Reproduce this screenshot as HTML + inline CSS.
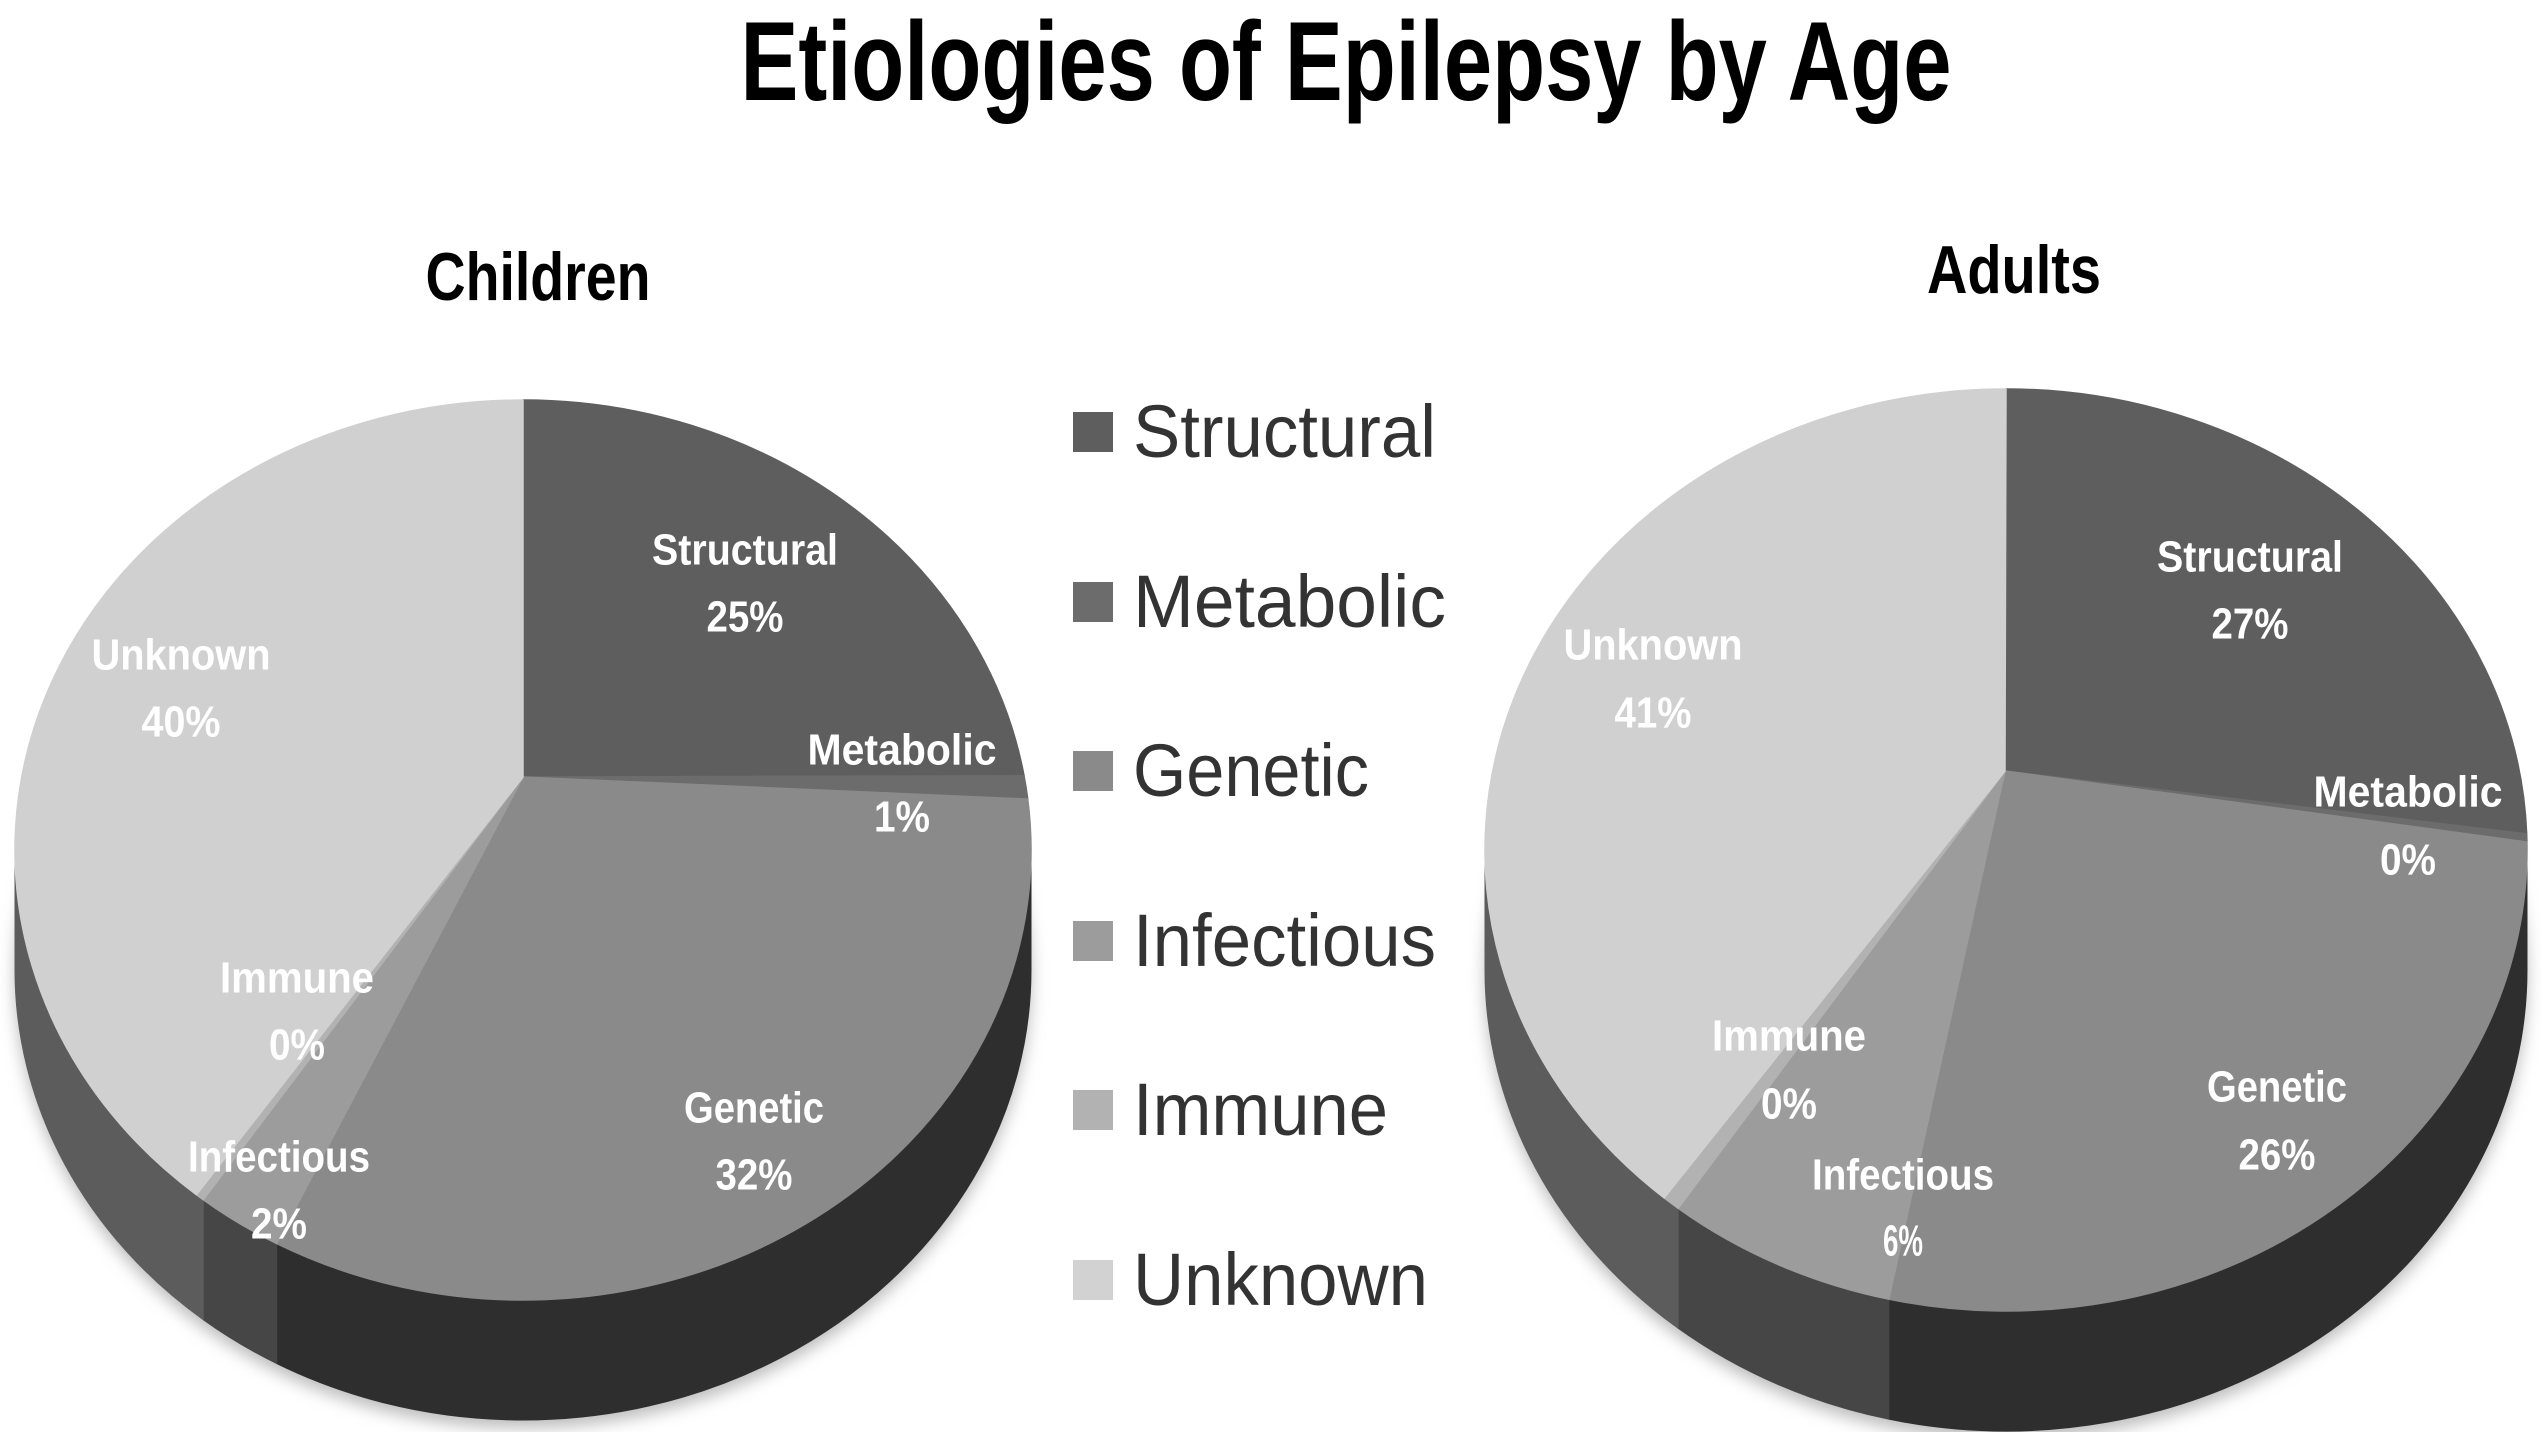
<!DOCTYPE html>
<html><head><meta charset="utf-8"><style>
html,body{margin:0;padding:0;background:#fff;}
svg{display:block;}
text{font-family:"Liberation Sans",sans-serif;}
.lb{fill:#fff;font-weight:bold;font-size:44px;text-anchor:middle;dominant-baseline:central;}
.lg{fill:#333;font-size:74px;}
</style></head><body>
<svg id="s" width="2542" height="1432" viewBox="0 0 2542 1432" xmlns="http://www.w3.org/2000/svg">
<defs><filter id="sh" x="-10%" y="-10%" width="120%" height="130%"><feGaussianBlur stdDeviation="8"/></filter></defs>
<g id="pies"></g>
<text x="1346" y="100" font-size="112" font-weight="bold" fill="#000" text-anchor="middle" textLength="1211" lengthAdjust="spacingAndGlyphs">Etiologies of Epilepsy by Age</text>
<text x="538" y="300" font-size="68" font-weight="bold" fill="#000" text-anchor="middle" textLength="225" lengthAdjust="spacingAndGlyphs">Children</text>
<text x="2014" y="293" font-size="68" font-weight="bold" fill="#000" text-anchor="middle" textLength="174" lengthAdjust="spacingAndGlyphs">Adults</text>

<rect x="1073" y="412" width="40" height="40" fill="#5e5e5e"/>
<rect x="1073" y="582" width="40" height="40" fill="#6c6c6c"/>
<rect x="1073" y="751" width="40" height="40" fill="#8a8a8a"/>
<rect x="1073" y="921" width="40" height="40" fill="#9c9c9c"/>
<rect x="1073" y="1090" width="40" height="40" fill="#b2b2b2"/>
<rect x="1073" y="1260" width="40" height="40" fill="#d2d2d2"/>
<text class="lg" x="1133" y="457" textLength="303" lengthAdjust="spacingAndGlyphs">Structural</text>
<text class="lg" x="1133" y="627" textLength="313" lengthAdjust="spacingAndGlyphs">Metabolic</text>
<text class="lg" x="1133" y="796" textLength="236" lengthAdjust="spacingAndGlyphs">Genetic</text>
<text class="lg" x="1133" y="966" textLength="303" lengthAdjust="spacingAndGlyphs">Infectious</text>
<text class="lg" x="1133" y="1135" textLength="255" lengthAdjust="spacingAndGlyphs">Immune</text>
<text class="lg" x="1133" y="1305" textLength="295" lengthAdjust="spacingAndGlyphs">Unknown</text>

<g class="lb">
<text class="lb" x="745" y="550" textLength="186" lengthAdjust="spacingAndGlyphs">Structural</text>
<text class="lb" x="745" y="617" textLength="77" lengthAdjust="spacingAndGlyphs">25%</text>
<text class="lb" x="902" y="750" textLength="189" lengthAdjust="spacingAndGlyphs">Metabolic</text>
<text class="lb" x="902" y="817" textLength="56" lengthAdjust="spacingAndGlyphs">1%</text>
<text class="lb" x="181" y="655" textLength="179" lengthAdjust="spacingAndGlyphs">Unknown</text>
<text class="lb" x="181" y="722" textLength="79" lengthAdjust="spacingAndGlyphs">40%</text>
<text class="lb" x="297" y="978" textLength="154" lengthAdjust="spacingAndGlyphs">Immune</text>
<text class="lb" x="297" y="1045" textLength="56" lengthAdjust="spacingAndGlyphs">0%</text>
<text class="lb" x="279" y="1157" textLength="182" lengthAdjust="spacingAndGlyphs">Infectious</text>
<text class="lb" x="279" y="1224" textLength="56" lengthAdjust="spacingAndGlyphs">2%</text>
<text class="lb" x="754" y="1108" textLength="140" lengthAdjust="spacingAndGlyphs">Genetic</text>
<text class="lb" x="754" y="1175" textLength="77" lengthAdjust="spacingAndGlyphs">32%</text>

<text class="lb" x="2250" y="557" textLength="186" lengthAdjust="spacingAndGlyphs">Structural</text>
<text class="lb" x="2250" y="624" textLength="77" lengthAdjust="spacingAndGlyphs">27%</text>
<text class="lb" x="2408" y="792" textLength="189" lengthAdjust="spacingAndGlyphs">Metabolic</text>
<text class="lb" x="2408" y="860" textLength="56" lengthAdjust="spacingAndGlyphs">0%</text>
<text class="lb" x="1653" y="645" textLength="179" lengthAdjust="spacingAndGlyphs">Unknown</text>
<text class="lb" x="1653" y="713" textLength="77" lengthAdjust="spacingAndGlyphs">41%</text>
<text class="lb" x="1789" y="1036" textLength="154" lengthAdjust="spacingAndGlyphs">Immune</text>
<text class="lb" x="1789" y="1104" textLength="56" lengthAdjust="spacingAndGlyphs">0%</text>
<text class="lb" x="1903" y="1175" textLength="182" lengthAdjust="spacingAndGlyphs">Infectious</text>
<text class="lb" x="1903" y="1241" textLength="40" lengthAdjust="spacingAndGlyphs">6%</text>
<text class="lb" x="2277" y="1087" textLength="140" lengthAdjust="spacingAndGlyphs">Genetic</text>
<text class="lb" x="2277" y="1155" textLength="77" lengthAdjust="spacingAndGlyphs">26%</text>
</g>
</svg>
<script>
(function(){
var NS="http://www.w3.org/2000/svg",g=document.getElementById("pies");
function el(n,a){var e=document.createElementNS(NS,n);for(var k in a)e.setAttribute(k,a[k]);g.appendChild(e);return e;}
function pt(p,t,dy){var r=t*Math.PI/180;return [p.cx+p.rx*Math.cos(r),p.cy+p.ry*Math.sin(r)+(dy||0)];}
function pie(p){
 el("ellipse",{cx:p.cx,cy:p.cy+p.d+8,rx:p.rx,ry:p.ry,fill:"#bbb",filter:"url(#sh)"});
 p.side.forEach(function(s){
  var a=Math.max(s[0],0),b=Math.min(s[1],180);if(b<=a)return;
  var A=pt(p,a),B=pt(p,b),B2=pt(p,b,p.d),A2=pt(p,a,p.d);
  el("path",{d:"M"+A+" A"+p.rx+","+p.ry+" 0 0 1 "+B+" L"+B2+" A"+p.rx+","+p.ry+" 0 0 0 "+A2+" Z",fill:s[2],stroke:s[2],"stroke-width":1});
 });
 p.sl.forEach(function(s){
  var A=pt(p,s[0]),B=pt(p,s[1]),large=(s[1]-s[0])>180?1:0;
  el("path",{d:"M"+p.ax+","+p.ay+" L"+A+" A"+p.rx+","+p.ry+" 0 "+large+" 1 "+B+" Z",fill:s[2],stroke:s[2],"stroke-width":1.5,"stroke-linejoin":"round"});
 });
}
pie({cx:523,cy:850,rx:508,ry:450,d:120,ax:523,ay:777,
 sl:[[-90,-9.5,"#5e5e5e"],[-9.5,-6.5,"#6c6c6c"],[-6.5,119,"#8a8a8a"],[119,129,"#9c9c9c"],[129,130,"#b2b2b2"],[130,270,"#d0d0d0"]],
 side:[[0,119,"#2e2e2e"],[119,129,"#464646"],[129,180,"#5c5c5c"]]});
pie({cx:2006,cy:850,rx:521,ry:461,d:120,ax:2005,ay:771,
 sl:[[-90,-2,"#5e5e5e"],[-2,-1,"#6c6c6c"],[-1,103,"#8a8a8a"],[103,129,"#9c9c9c"],[129,131,"#b2b2b2"],[131,270,"#d0d0d0"]],
 side:[[0,103,"#2e2e2e"],[103,129,"#464646"],[129,180,"#5c5c5c"]]});
})();
</script>
</body></html>
